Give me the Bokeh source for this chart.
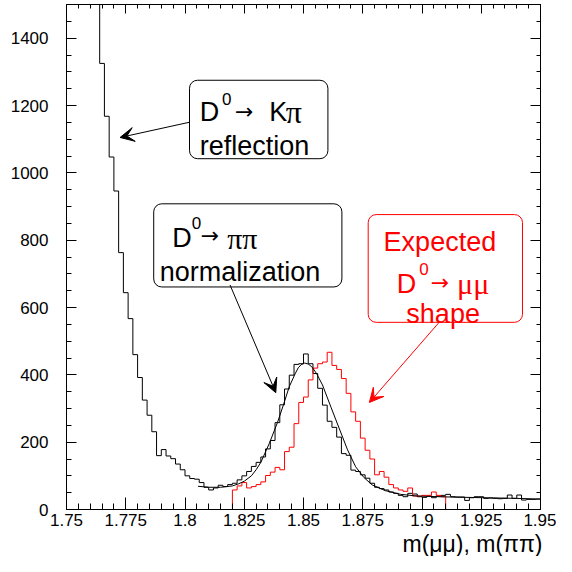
import numpy as np
from bokeh.plotting import figure
from bokeh.models import (LinearAxis, FixedTicker, BoxAnnotation, Label, Arrow,
                          VeeHead, Range1d, Title)
from bokeh.embed import file_html
from bokeh.resources import INLINE

# ---------------- data ----------------
bin_lo = 1.75
bin_w = 0.002
# D0 -> pi pi candidates (black), 100 bins of 0.002 from 1.75 to 1.95
black_counts = [3400, 3000, 2650, 2350, 2050, 1800, 1560, 1325, 1168, 1047,
                946, 763, 644, 567, 460, 392, 325, 280, 231, 160,
                178, 159, 151, 135, 118, 100, 92, 90, 80, 66,
                58, 64, 72, 68, 74, 78, 88, 100, 113, 128,
                140, 156, 180, 205, 258, 311, 358, 399, 431, 433,
                462, 433, 404, 360, 310, 262, 244, 215, 166, 161,
                117, 113, 103, 93, 78, 66, 62, 58, 52, 48,
                42, 38, 48, 46, 38, 36, 40, 35, 40, 42,
                45, 38, 37, 37, 27, 35, 38, 38, 33, 34,
                33, 32, 33, 43, 33, 43, 28, 30, 30, 31]
# expected D0 -> mu mu shape (red), starts at bin 35 (m = 1.820)
red_first_bin = 35
red_counts = [58, 70, 80, 64, 68, 74, 82, 101, 111, 125,
              118, 172, 185, 255, 318, 334, 385, 420, 433, 438,
              467, 428, 416, 389, 345, 290, 262, 212, 176, 150,
              103, 113, 96, 74, 64, 58, 54, 64, 40, 40,
              42, 42, 52, 42, 38]
# fitted normalization curve
fit_x = [1.8055, 1.810, 1.815, 1.820, 1.8225, 1.825, 1.828, 1.830, 1.832,
         1.8355, 1.839, 1.8415, 1.844, 1.8466, 1.8478, 1.849, 1.8505, 1.852,
         1.8535, 1.8555, 1.858, 1.8617, 1.865, 1.8686, 1.872, 1.8755, 1.879,
         1.8845, 1.891, 1.898, 1.912, 1.926, 1.940, 1.950]
fit_y = [69, 66, 66, 70, 76, 84, 100, 118, 140,
         195, 258, 310, 365, 405, 421, 430, 435, 432,
         424, 404, 370, 302, 242, 177, 127, 95, 73,
         56, 45, 40, 37, 35, 33, 31]

x_ticks = [1.75, 1.775, 1.8, 1.825, 1.85, 1.875, 1.9, 1.925, 1.95]
x_tick_labels = ["1.75", "1.775", "1.8", "1.825", "1.85", "1.875", "1.9", "1.925", "1.95"]
y_ticks = [0, 200, 400, 600, 800, 1000, 1200, 1400]
y_tick_labels = ["0", "200", "400", "600", "800", "1000", "1200", "1400"]
x_title = "m(\u03bc\u03bc), m(\u03c0\u03c0)"

# ---------------- figure ----------------
p = figure(width=556, height=556,
           x_range=Range1d(1.75, 1.95), y_range=Range1d(0, 1500),
           x_axis_type=None, y_axis_type=None,
           output_backend="svg", toolbar_location=None,
           min_border_left=66, min_border_right=16,
           min_border_top=4, min_border_bottom=0,
           background_fill_color="white", border_fill_color="white")
p.outline_line_color = "black"

x_minor = list(np.round(np.arange(1.75, 1.9501, 0.005), 4))
y_minor = list(np.arange(0, 1501, 50))


def make_axis(ticker, tick_in, minor_in, labels=None):
    ax = LinearAxis(ticker=ticker, major_tick_in=tick_in, major_tick_out=0,
                    minor_tick_in=minor_in, minor_tick_out=0,
                    axis_line_color="black", major_tick_line_color="black",
                    minor_tick_line_color="black")
    if labels is None:
        ax.major_label_text_color = None
        ax.major_label_text_font_size = "1px"
        ax.major_label_standoff = 0
    else:
        ax.major_label_overrides = labels
        ax.major_label_text_font = "Liberation Sans"
        ax.major_label_text_font_size = "17px"
        ax.major_label_text_color = "black"
    return ax


xb = make_axis(FixedTicker(ticks=x_ticks, minor_ticks=x_minor), 12, 6,
               dict(zip(x_ticks, x_tick_labels)))
xb.major_label_standoff = 4
yl = make_axis(FixedTicker(ticks=y_ticks, minor_ticks=y_minor), 10, 5,
               dict(zip(y_ticks, y_tick_labels)))
yl.major_label_standoff = 18
xt = make_axis(FixedTicker(ticks=x_ticks, minor_ticks=x_minor), 9, 4)
yr = make_axis(FixedTicker(ticks=y_ticks, minor_ticks=y_minor), 10, 4)
p.add_layout(xb, "below")
p.add_layout(yl, "left")
p.add_layout(xt, "above")
p.add_layout(yr, "right")

# x-axis title, right aligned like ROOT
p.add_layout(Title(text=x_title, align="right", text_font="Liberation Sans",
                   text_font_size="23px", text_font_style="normal",
                   text_color="black", standoff=0, offset=-2), "below")

# ---------------- histograms ----------------
edges = bin_lo + bin_w * np.arange(len(black_counts) + 1)
p.step(x=edges, y=black_counts + [black_counts[-1]], mode="after",
       line_color="black", line_width=1)

red_edges = bin_lo + bin_w * (red_first_bin + np.arange(len(red_counts) + 1))
rx = np.concatenate([[red_edges[0]], red_edges])
ry = [0] + red_counts + [0]
p.step(x=rx, y=ry, mode="after", line_color="#ff0000", line_width=1)

p.line(fit_x, fit_y, line_color="black", line_width=1)

# ---------------- annotation boxes ----------------
for (l, r, t, b, col) in [(1.8019, 1.8603, 1275, 1042, "black"),
                          (1.7868, 1.8662, 908, 661, "black"),
                          (1.8773, 1.9424, 876, 556, "#ff0000")]:
    p.add_layout(BoxAnnotation(left=l, right=r, top=t, bottom=b,
                               fill_color="white", fill_alpha=1.0,
                               line_color=col, line_alpha=1.0, line_width=1,
                               border_radius=8))


def lab(x, y, text, size, color="black", font="Liberation Sans", align="left"):
    p.add_layout(Label(x=x, y=y, text=text, text_font=font,
                       text_font_size=size, text_color=color,
                       text_align=align, text_baseline="alphabetic"))


# box 1: D0 -> K pi reflection
lab(1.8062, 1180, "D", "27px")
lab(1.8156, 1219, "0", "17px")
lab(1.8211, 1183, "\u2192", "22px", font="DejaVu Sans")
lab(1.8355, 1180, "K", "27px")
lab(1.8425, 1180, "\u03c0", "32px", font="Liberation Serif")
lab(1.8062, 1080, "reflection", "27px")

# box 2: D0 -> pi pi normalization
lab(1.7946, 806, "D", "27px")
lab(1.8029, 850, "0", "17px")
lab(1.8066, 815, "\u2192", "22px", font="DejaVu Sans")
lab(1.8178, 806, "\u03c0\u03c0", "30px", font="Liberation Serif")
lab(1.7893, 704, "normalization", "27px")

# box 3: Expected D0 -> mu mu shape
lab(1.8838, 795, "Expected", "27px", color="#ff0000")
lab(1.8893, 670, "D", "27px", color="#ff0000")
lab(1.8988, 714, "0", "17px", color="#ff0000")
lab(1.9037, 673, "\u2192", "22px", color="#ff0000", font="DejaVu Sans")
lab(1.9148, 670, "\u03bc\u03bc", "30px", color="#ff0000", font="Liberation Serif")
lab(1.8934, 582, "shape", "27px", color="#ff0000")

# ---------------- arrows ----------------
for (x0, y0, x1, y1, col) in [(1.8017, 1150, 1.7726, 1105, "black"),
                              (1.8190, 667, 1.8383, 347, "black"),
                              (1.9076, 559, 1.8778, 318, "#ff0000")]:
    p.add_layout(Arrow(start=None,
                       end=VeeHead(size=14, fill_color=col, line_color=col),
                       x_start=x0, y_start=y0, x_end=x1, y_end=y1,
                       line_color=col, line_width=1))

open("out.html", "w").write(file_html(p, INLINE))
